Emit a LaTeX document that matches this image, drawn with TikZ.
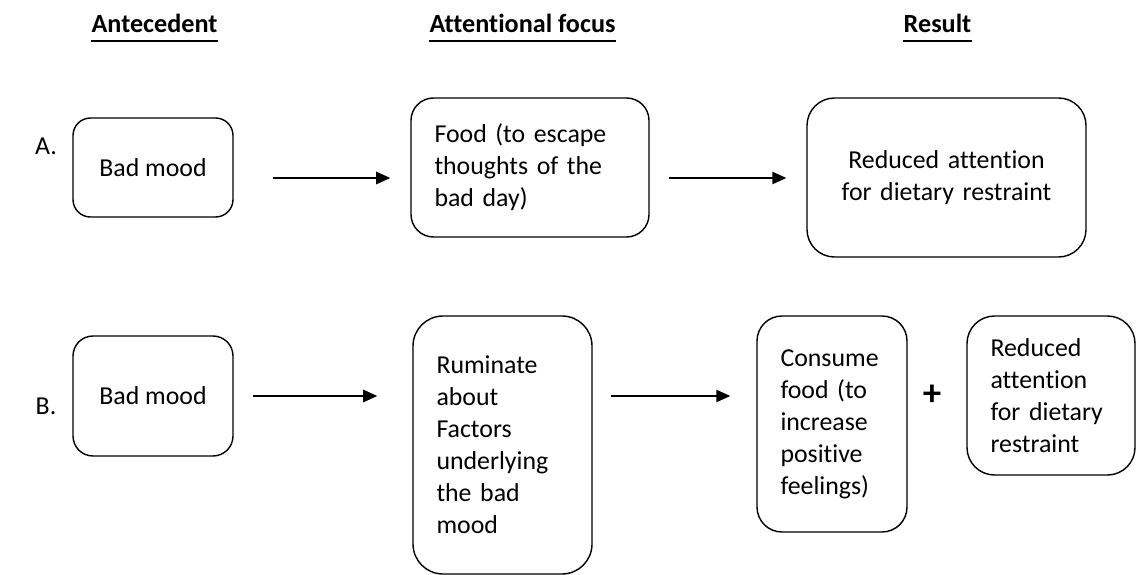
\documentclass[tikz,border=0pt]{standalone}
\usepackage{fontspec}
\setmainfont[Ligatures=NoCommon]{Carlito}
\usetikzlibrary{arrows.meta}
\begin{document}
\begin{tikzpicture}[font=\fontsize{14.7}{18.2}\selectfont,
        rbox/.style={draw, line width=0.8pt, rounded corners=#1, inner xsep=0.47cm, inner ysep=0pt},
        rbox/.default=0.4cm,
        hdr/.style={inner sep=0pt, font=\fontsize{14.9}{18}\selectfont\bfseries},
        arr/.style={line width=0.9pt, -{Triangle[length=8pt,width=7pt]}}]
        \useasboundingbox (0,0) rectangle (22.76,-11.5);
        % headers
        \node[hdr] (h1) at (3.09,-0.46) {Antecedent};
        \node[hdr] (h2) at (10.45,-0.46) {Attentional focus};
        \node[hdr] (h3) at (18.75,-0.46) {Result};
        \foreach \h in {h1,h2,h3}
            \draw[line width=1.1pt] ([yshift=-5pt]\h.base west) -- ([yshift=-5pt]\h.base east);
        % row A
        \node (la) at (0.92,-2.92) {A.};
        \node[rbox=0.35cm, minimum width=3.2cm, minimum height=1.98cm] (a1) at (3.06,-3.35) {Bad mood};
        \node[rbox=0.45cm, text width=3.82cm, align=left, minimum height=2.78cm] (a2) at (10.6,-3.35) {Food (to escape\\thoughts of the\\bad day)};
        \node[rbox=0.55cm, text width=4.64cm, align=center, minimum height=3.18cm] (a3) at (18.93,-3.55) {Reduced attention\\for dietary restraint};
        \draw[arr, shorten <=0.78cm, shorten >=0.4cm] ([yshift=-0.21cm]a1.east) -- ([yshift=-0.21cm]a2.west);
        \draw[arr, shorten <=0.38cm, shorten >=0.4cm] ([yshift=-0.21cm]a2.east) -- ([yshift=-0.21cm]a2.east -| a3.west);
        % row B
        \node (lb) at (0.92,-8.12) {B.};
        \node[rbox=0.4cm, minimum width=3.2cm, minimum height=2.4cm] (b1) at (3.06,-7.92) {Bad mood};
        \node[rbox=0.6cm, text width=2.64cm, align=left, minimum height=5.16cm] (b2) at (10.05,-8.9) {Ruminate\\about\\Factors\\underlying\\the bad\\mood};
        \node[rbox=0.5cm, text width=2.06cm, align=left, minimum height=4.32cm] (b3) at (16.64,-8.48) {Consume\\food (to\\increase\\positive\\feelings)};
        \node[font=\fontsize{21}{24}\selectfont\bfseries] (plus) at (18.64,-7.9) {+};
        \node[rbox=0.55cm, text width=2.42cm, align=left, minimum height=3.18cm] (b4) at (21.02,-7.91) {Reduced\\attention\\for dietary\\restraint};
        \draw[arr, shorten <=0.38cm, shorten >=0.7cm] (b1.east) -- (b1.east -| b2.west);
        \draw[arr, shorten <=0.36cm, shorten >=0.52cm] (b2.east |- b1.east) -- (b1.east -| b3.west);
        %\node at (b2.south) {};
\end{tikzpicture}
\end{document}
